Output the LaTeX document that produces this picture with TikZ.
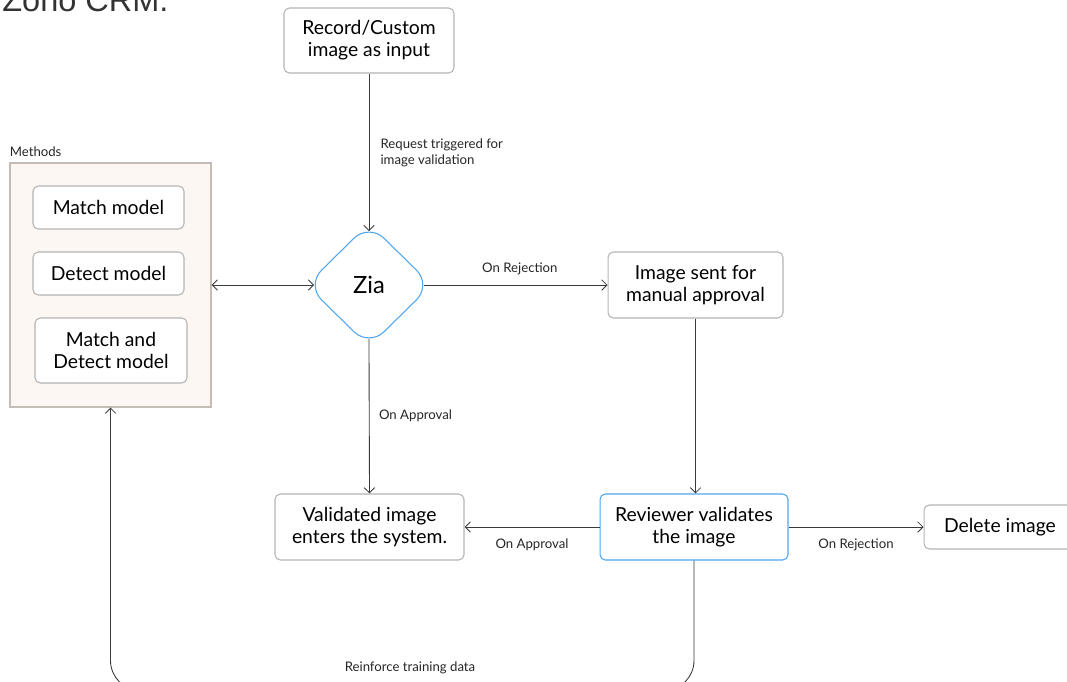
\documentclass[tikz,border=0pt]{standalone}
\usepackage{fontspec}
\setmainfont{Lato}
\newfontfamily\headfont{Liberation Sans}
\usetikzlibrary{arrows.meta,positioning,shapes.geometric,calc}

\definecolor{edgegray}{HTML}{B4B4B4}
\definecolor{ziablue}{HTML}{4DA6F0}
\definecolor{methodfill}{HTML}{FCF7F2}
\definecolor{methodline}{HTML}{C4BDB6}
\definecolor{linedark}{HTML}{3A3A3A}

\begin{document}
\begin{tikzpicture}[x=0.02cm, y=-0.02cm,
  procbox/.style={draw=edgegray, rounded corners=3pt, fill=white,
                  align=center, inner sep=0pt, line width=0.6pt,
                  font=\fontsize{11}{12.5}\selectfont},
  bluebox/.style={procbox, draw=ziablue},
  decision/.style={diamond, draw=ziablue, rounded corners=0.42cm,
                   minimum width=2.51cm, minimum height=2.47cm,
                   inner sep=0pt, line width=0.6pt,
                   font=\fontsize{13.5}{15}\selectfont},
  lbl/.style={font=\fontsize{7.5}{9}\selectfont, text=black!85},
  tip/.tip={Straight Barb[length=3pt,width=6pt]},
  flow/.style={-tip, draw=linedark, line width=0.5pt},
]
\useasboundingbox (0,0) rectangle (1067,682);

% Heading (cut off at the top)
\node[anchor=base west, inner sep=0pt, text=black!80,
      font=\headfont\fontsize{18.5}{20}\selectfont] (heading) at (2,12) {Zoho CRM.};

% Methods
\node[draw=methodline, fill=methodfill, line width=0.6pt,
      minimum width=4.02cm, minimum height=4.88cm] (methods) at (110.5,285) {};
\node[lbl, anchor=south west, inner xsep=0pt, inner ysep=1pt] (methodslbl)
  at ([yshift=2pt]methods.north west) {Methods};
\node[procbox, minimum width=3.02cm, minimum height=0.86cm] (match)  at (108.5,207.5) {Match model};
\node[procbox, minimum width=3.02cm, minimum height=0.86cm] (detect) at (108.5,273.5) {Detect model};
\node[procbox, minimum width=3.04cm, minimum height=1.3cm]  (both)   at (111,350.5) {Match and\\Detect model};

% Flow
\node[procbox, minimum width=3.4cm, minimum height=1.3cm]   (input)     at (369,40.5) {Record/Custom\\image as input};
\node[decision] (zia) at (369,285) {Zia};
\node[procbox, minimum width=3.5cm, minimum height=1.32cm]  (manual)    at (695.5,285) {Image sent for\\manual approval};
\node[bluebox, minimum width=3.76cm, minimum height=1.32cm] (reviewer)  at (694,527) {Reviewer validates\\the image};
\node[procbox, minimum width=3.78cm, minimum height=1.32cm] (validated) at (369.5,527) {Validated image\\enters the system.};
\node[procbox, minimum width=3.04cm, minimum height=0.88cm] (delete)    at (1000,527) {Delete image};

% Arrows
\draw[flow, shorten >=-0.17cm] (input.south) -- (zia.north)
  node[lbl, pos=0.53, right=3pt, align=left] {Request triggered for\\image validation};
\draw[flow, shorten <=-0.17cm] (zia.east) -- (manual.west)
  node[lbl, midway, above=2pt] {On Rejection};
\draw[flow] (manual.south) -- (manual.south |- reviewer.north);
\draw[flow, shorten <=-0.17cm] (zia.south) -- (validated.north)
  node[lbl, pos=0.47, right=2pt] {On Approval};
\draw[flow] (reviewer.west) -- (validated.east)
  node[lbl, midway, below=3pt] {On Approval};
\draw[flow] (reviewer.east) -- (delete.west)
  node[lbl, midway, below=3pt] {On Rejection};
\draw[flow, tip-tip, shorten >=-0.17cm] (methods.east) -- (zia.west);

% Feedback loop
\draw[flow, rounded corners=0.6cm] (reviewer.south) -- ++(0,130) -| (methods.south);
\node[lbl] (reinforce) at (410,668) {Reinforce training data};

\end{tikzpicture}
\end{document}
